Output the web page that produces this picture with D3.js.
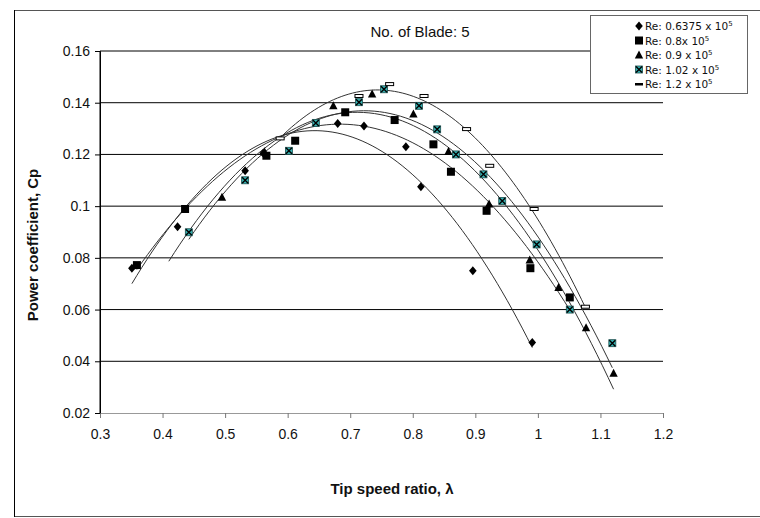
<!DOCTYPE html>
<html>
<head>
<meta charset="utf-8">
<script src="https://cdn.jsdelivr.net/npm/d3@7"></script>
<style>
  body { margin: 0; background: #fff; }
  svg { display: block; }
</style>
</head>
<body>
<svg id="chart" width="760" height="518"></svg>
<script>
// Tip speed ratio (λ) vs power coefficient (Cp), five-blade rotor, per Reynolds number
const lambdaTicks = [0.3, 0.4, 0.5, 0.6, 0.7, 0.8, 0.9, 1.0, 1.1, 1.2];
const lambdaTickLabels = ["0.3", "0.4", "0.5", "0.6", "0.7", "0.8", "0.9", "1", "1.1", "1.2"];
const cpTicks = [0.02, 0.04, 0.06, 0.08, 0.10, 0.12, 0.14, 0.16];
const cpTickLabels = ["0.02", "0.04", "0.06", "0.08", "0.1", "0.12", "0.14", "0.16"];

const seriesNames = ["Re: 0.6375 x 10", "Re: 0.8x 10", "Re: 0.9 x 10", "Re: 1.02 x 10", "Re: 1.2 x 10"];
const seriesSymbols = ["diamond", "square", "triangle", "crossbox", "dash"];

// [λ, Cp] measurements
const re06375 = [[0.351, 0.076], [0.424, 0.092], [0.532, 0.1137], [0.561, 0.1205], [0.680, 0.132],
                 [0.722, 0.131], [0.789, 0.123], [0.813, 0.1075], [0.896, 0.075], [0.991, 0.0473]];
const re08 = [[0.359, 0.0772], [0.436, 0.0989], [0.566, 0.1195], [0.612, 0.1253], [0.692, 0.1363],
              [0.771, 0.1333], [0.833, 0.1239], [0.861, 0.1133], [0.918, 0.0982], [0.988, 0.076], [1.051, 0.0647]];
const re09 = [[0.495, 0.1034], [0.563, 0.121], [0.673, 0.1388], [0.735, 0.1434], [0.801, 0.1356],
              [0.857, 0.1211], [0.922, 0.1008], [0.987, 0.0792], [1.033, 0.0685], [1.077, 0.053], [1.121, 0.0354]];
const re102 = [[0.442, 0.0899], [0.532, 0.110], [0.602, 0.1214], [0.645, 0.1322], [0.714, 0.1402],
               [0.754, 0.1452], [0.810, 0.1388], [0.839, 0.1297], [0.869, 0.120], [0.913, 0.1123],
               [0.943, 0.102], [0.998, 0.0852], [1.051, 0.060], [1.119, 0.047]];
const re12 = [[0.588, 0.1262], [0.714, 0.1426], [0.763, 0.1472], [0.818, 0.1426], [0.886, 0.1298],
              [0.923, 0.1156], [0.994, 0.0989], [1.076, 0.0611]];
const allSeries = [re06375, re08, re09, re102, re12];

// λ span covered by each fitted trendline
const trendStart = [0.351, 0.359, 0.41, 0.442, 0.588];
const trendEnd = [0.991, 1.051, 1.121, 1.119, 1.076];

const svg = d3.select("#chart");
const x = d3.scaleLinear().domain([0.3, 1.2]).range([100, 663]);
const y = d3.scaleLinear().domain([0.02, 0.16]).range([413, 51]);

// outer frame
svg.append("rect").attr("x", 14.5).attr("y", 10.5).attr("width", 760).attr("height", 506)
  .attr("fill", "none").attr("stroke", "#555").attr("stroke-width", 1);
svg.append("line").attr("x1", 14.5).attr("x2", 14.5).attr("y1", 10).attr("y2", 517)
  .attr("stroke", "#000");

// horizontal gridlines
svg.append("g").selectAll("line").data(cpTicks.filter(d => d > 0.02)).join("line")
  .attr("x1", x(0.3)).attr("x2", x(1.2))
  .attr("y1", d => y(d)).attr("y2", d => y(d))
  .attr("stroke", "#000").attr("stroke-width", 1);

// axes
const yAxis = svg.append("g").attr("transform", `translate(${x(0.3)},0)`)
  .call(d3.axisLeft(y).tickValues(cpTicks).tickSize(5).tickPadding(5)
    .tickFormat((d, i) => cpTickLabels[i]));
yAxis.select(".domain").attr("stroke", "#000");
yAxis.selectAll(".tick line").attr("stroke", "#000");

const xAxis = svg.append("g").attr("transform", `translate(0,${y(0.02)})`)
  .call(d3.axisBottom(x).tickValues(lambdaTicks).tickSize(5).tickPadding(11)
    .tickFormat((d, i) => lambdaTickLabels[i]));
xAxis.select(".domain").attr("stroke", "#999");
xAxis.selectAll(".tick line").attr("stroke", "#777");

svg.selectAll(".tick text")
  .attr("font-family", "'Liberation Sans', Arial, sans-serif")
  .attr("font-size", 14).attr("fill", "#111");

// y axis line kept above the x axis
svg.append("line").attr("x1", x(0.3)).attr("x2", x(0.3)).attr("y1", y(0.16)).attr("y2", y(0.02) + 0.5)
  .attr("stroke", "#000");

// titles
svg.append("text").attr("x", 420).attr("y", 37).attr("text-anchor", "middle")
  .attr("font-family", "'Liberation Sans', Arial, sans-serif").attr("font-size", 15)
  .attr("fill", "#111").text("No. of Blade: 5");
svg.append("text").attr("x", 392).attr("y", 494).attr("text-anchor", "middle")
  .attr("font-family", "'Liberation Sans', Arial, sans-serif").attr("font-size", 15)
  .attr("font-weight", "bold").attr("fill", "#111").text("Tip speed ratio, λ");
svg.append("text").attr("transform", "translate(38,245) rotate(-90)").attr("text-anchor", "middle")
  .attr("font-family", "'Liberation Sans', Arial, sans-serif").attr("font-size", 15)
  .attr("font-weight", "bold").attr("fill", "#111").text("Power coefficient, Cp");

// second-order polynomial least-squares fit
function quadFit(pts) {
  let s = [0, 0, 0, 0, 0], t = [0, 0, 0];
  pts.forEach(([a, b]) => {
    for (let k = 0; k < 5; k++) s[k] += Math.pow(a, k);
    for (let k = 0; k < 3; k++) t[k] += b * Math.pow(a, k);
  });
  const M = [[s[0], s[1], s[2], t[0]], [s[1], s[2], s[3], t[1]], [s[2], s[3], s[4], t[2]]];
  for (let i = 0; i < 3; i++) {
    for (let j = i + 1; j < 3; j++) {
      const f = M[j][i] / M[i][i];
      for (let k = i; k < 4; k++) M[j][k] -= f * M[i][k];
    }
  }
  const c = [0, 0, 0];
  for (let i = 2; i >= 0; i--) {
    let v = M[i][3];
    for (let k = i + 1; k < 3; k++) v -= M[i][k] * c[k];
    c[i] = v / M[i][i];
  }
  return v => c[0] + c[1] * v + c[2] * v * v;
}

// trendlines
const line = d3.line().x(d => x(d[0])).y(d => y(d[1]));
const trendG = svg.append("g");
allSeries.forEach((pts, si) => {
  const f = quadFit(pts);
  const lo = trendStart[si], hi = trendEnd[si];
  const samples = d3.range(0, 81).map(i => {
    const v = lo + (hi - lo) * i / 80;
    return [v, f(v)];
  });
  trendG.append("path").attr("d", line(samples))
    .attr("fill", "none").attr("stroke", "#333").attr("stroke-width", 1);
});

// markers
function drawMarker(g, kind, cx, cy) {
  if (kind === "diamond") {
    g.append("path").attr("d", `M${cx},${cy - 4.5}L${cx + 3.8},${cy}L${cx},${cy + 4.5}L${cx - 3.8},${cy}Z`)
      .attr("fill", "#000");
  } else if (kind === "square") {
    g.append("rect").attr("x", cx - 4).attr("y", cy - 4).attr("width", 8).attr("height", 8).attr("fill", "#000");
  } else if (kind === "triangle") {
    g.append("path").attr("d", `M${cx},${cy - 4.5}L${cx + 4.2},${cy + 3.5}L${cx - 4.2},${cy + 3.5}Z`)
      .attr("fill", "#000");
  } else if (kind === "crossbox") {
    g.append("rect").attr("x", cx - 3.5).attr("y", cy - 3.5).attr("width", 7).attr("height", 7)
      .attr("fill", "#36b3b3").attr("stroke", "#1f4f4f").attr("stroke-width", 0.8);
    g.append("path").attr("d", `M${cx - 3},${cy - 3}L${cx + 3},${cy + 3}M${cx + 3},${cy - 3}L${cx - 3},${cy + 3}`)
      .attr("stroke", "#000").attr("stroke-width", 1.4);
  } else if (kind === "dash") {
    g.append("rect").attr("x", cx - 4).attr("y", cy - 1.5).attr("width", 8).attr("height", 3)
      .attr("fill", "#fff").attr("stroke", "#000").attr("stroke-width", 1);
  }
}

const markG = svg.append("g");
allSeries.forEach((pts, si) => {
  pts.forEach(d => drawMarker(markG, seriesSymbols[si], x(d[0]), y(d[1])));
});

// legend
const lg = svg.append("g");
lg.append("rect").attr("x", 590.5).attr("y", 15.5).attr("width", 157).attr("height", 78)
  .attr("fill", "#fff").attr("stroke", "#666").attr("stroke-width", 1);
seriesNames.forEach((name, i) => {
  const ry = 26 + i * 14.5;
  const kind = seriesSymbols[i];
  if (kind === "dash") {
    lg.append("rect").attr("x", 635).attr("y", ry - 1).attr("width", 8).attr("height", 2.5).attr("fill", "#000");
  } else {
    drawMarker(lg, kind, 639, ry);
  }
  const t = lg.append("text").attr("x", 645).attr("y", ry + 4)
    .attr("font-family", "'DejaVu Sans', Verdana, sans-serif").attr("font-size", 10.5).attr("fill", "#111");
  t.append("tspan").text(name);
  t.append("tspan").attr("dy", -4).attr("font-size", 7).text("5");
});
</script>
</body>
</html>
